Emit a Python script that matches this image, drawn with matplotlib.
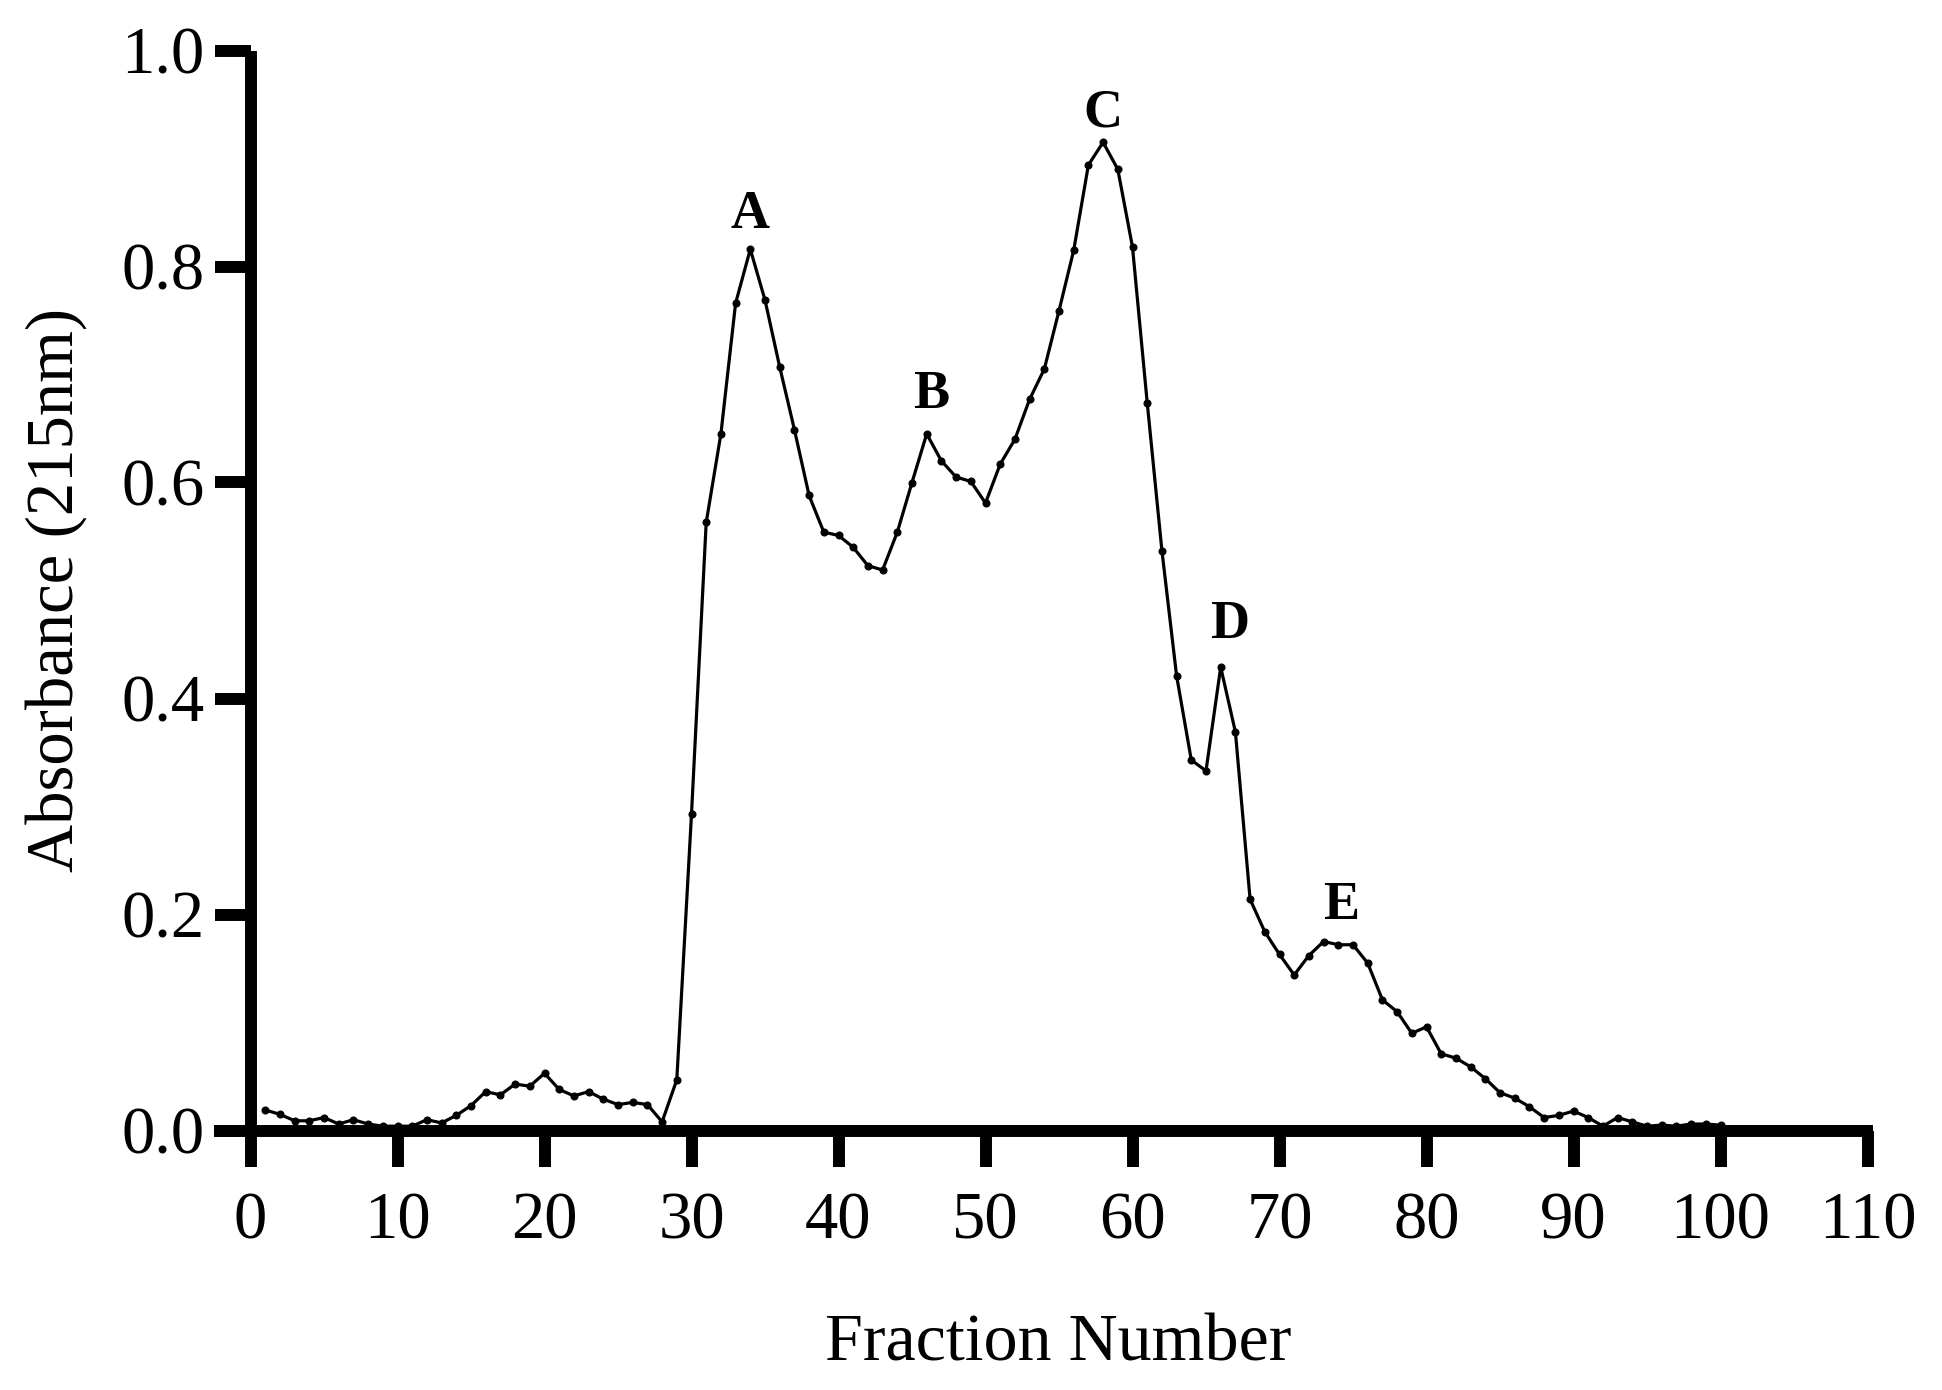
import numpy as np
import matplotlib.pyplot as plt

plt.rcParams['font.family'] = ['Liberation Serif', 'DejaVu Serif']

# fraction numbers and absorbance
fractions = list(range(1, 101))
absorbance = [
    0.019, 0.015, 0.009, 0.009, 0.012, 0.006, 0.010, 0.006, 0.004, 0.004,
    0.004, 0.010, 0.007, 0.014, 0.023, 0.036, 0.033, 0.043, 0.041, 0.053,
    0.038, 0.032, 0.036, 0.029, 0.024, 0.026, 0.024, 0.008, 0.047, 0.293,
    0.563, 0.645, 0.766, 0.816, 0.769, 0.707, 0.649, 0.588, 0.554, 0.551,
    0.540, 0.523, 0.519, 0.554, 0.600, 0.645, 0.620, 0.605, 0.601, 0.581,
    0.617, 0.640, 0.677, 0.705, 0.759, 0.815, 0.894, 0.915, 0.890, 0.818,
    0.674, 0.537, 0.421, 0.343, 0.333, 0.429, 0.369, 0.214, 0.184, 0.163,
    0.144, 0.162, 0.175, 0.172, 0.172, 0.155, 0.121, 0.110, 0.090, 0.096,
    0.071, 0.067, 0.059, 0.048, 0.035, 0.030, 0.022, 0.012, 0.014, 0.018,
    0.012, 0.004, 0.012, 0.008, 0.004, 0.005, 0.004, 0.006, 0.006, 0.005,
]

# peak labels
peak_names = ['A', 'B', 'C', 'D', 'E']
peak_x = [33.95, 46.3, 57.96, 66.6, 74.2]
peak_y = [0.848, 0.681, 0.942, 0.468, 0.208]

# pixel layout of the axes: x=0 at 250.5 px, 14.7 px per fraction
x0_px, x_scale = 250.5, 14.7
x_lo, x_hi = -2.45, 110.4
left_px = x0_px + x_lo * x_scale
right_px = x0_px + x_hi * x_scale

fig = plt.figure(figsize=(19.42, 13.9), dpi=100)
ax = fig.add_axes([left_px / 1942, 1 - 1130.5 / 1390,
                   (right_px - left_px) / 1942, 1080 / 1390])

ax.plot(fractions, absorbance, color='black', linewidth=2.3,
        marker='o', markersize=4.8, clip_on=False)

for name, px, py in zip(peak_names, peak_x, peak_y):
    ax.text(px, py, name, fontsize=39, fontweight='bold',
            ha='center', va='center')

ax.set_xlim(x_lo, x_hi)
ax.set_ylim(0, 1.0)
ax.set_xticks(np.arange(0, 111, 10))
ax.set_yticks(np.arange(0, 1.01, 0.2))
ax.set_yticklabels([f"{v:.1f}" for v in np.arange(0, 1.01, 0.2)])

ax.spines['top'].set_visible(False)
ax.spines['right'].set_visible(False)
ax.spines['left'].set_position(('data', 0))
for s in ['left', 'bottom']:
    ax.spines[s].set_linewidth(8.6)
    ax.spines[s].set_capstyle('butt')

ax.tick_params(axis='both', direction='out', length=26, width=8.6,
               labelsize=48, color='black')
ax.tick_params(axis='y', pad=7)
ax.tick_params(axis='x', pad=18)

fig.text(1058 / 1942, 1 - 1344 / 1390, 'Fraction Number', fontsize=49,
         ha='center', va='center')
fig.text(56 / 1942, 1 - 590 / 1390, 'Absorbance (215nm)', fontsize=48,
         ha='center', va='center', rotation=90)

fig.savefig('out.png', dpi=100, facecolor='white')
